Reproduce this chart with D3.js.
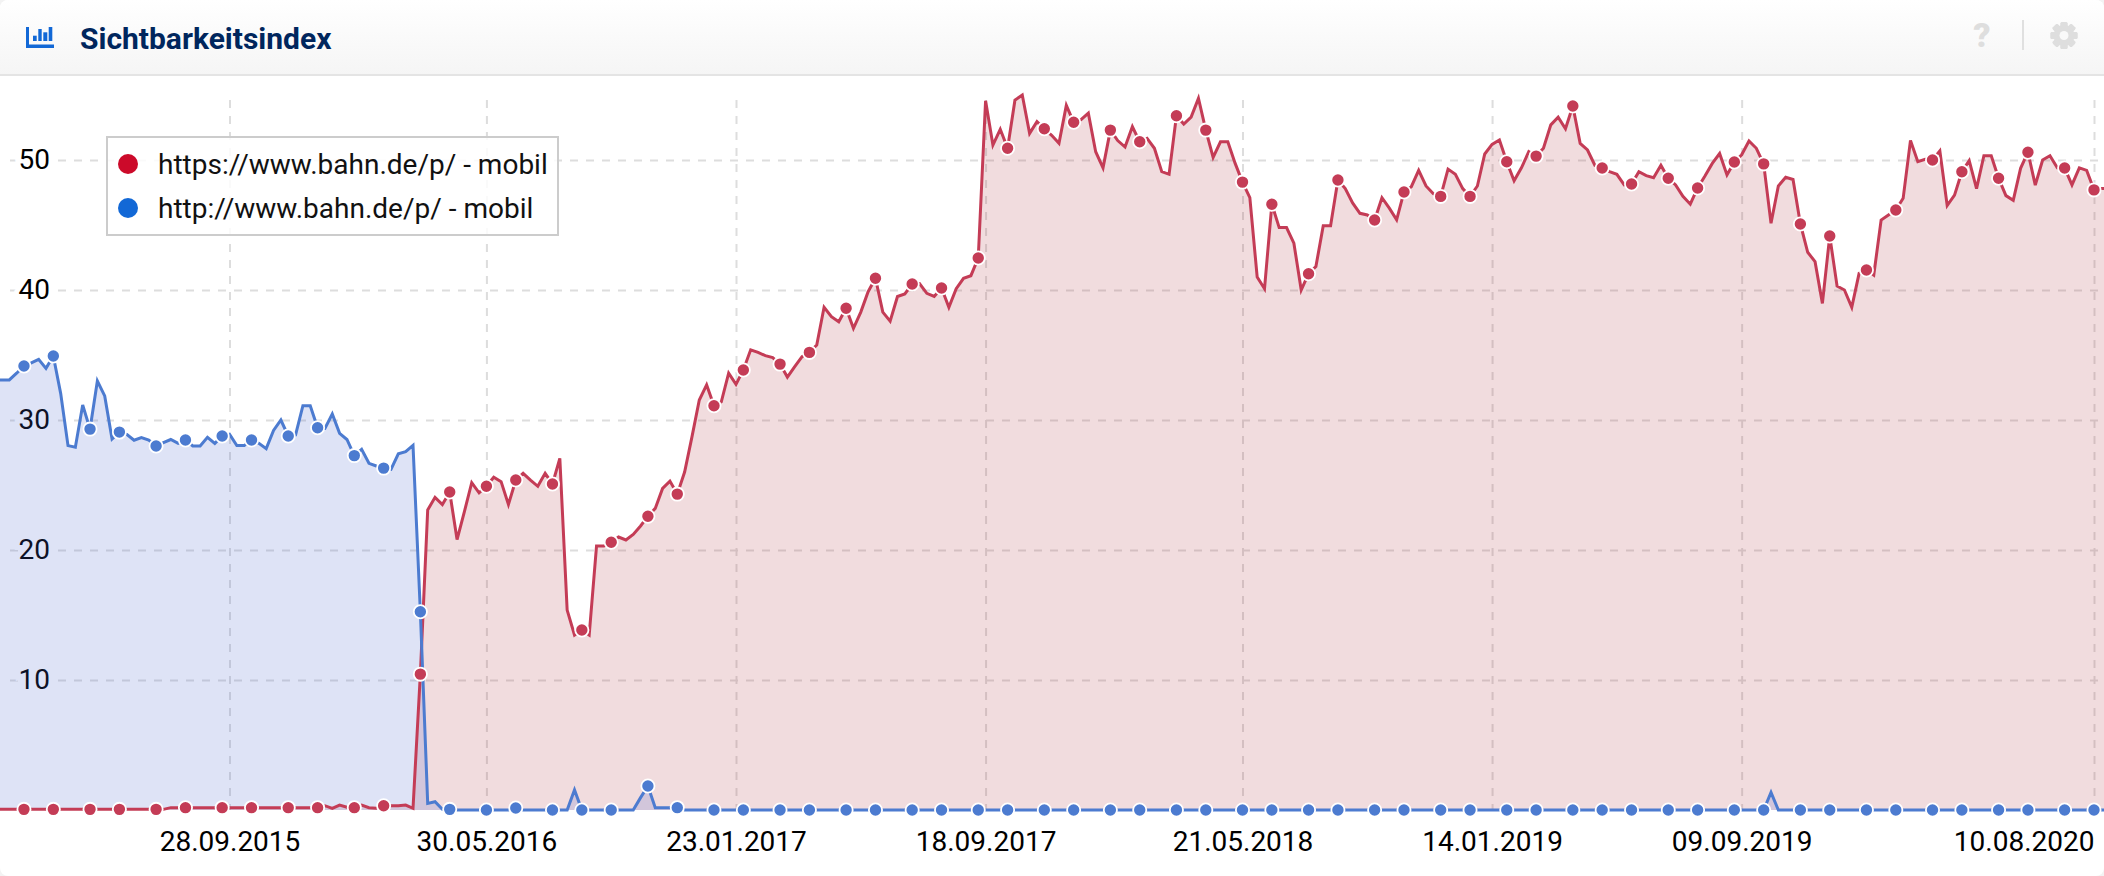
<!DOCTYPE html>
<html>
<head>
<meta charset="utf-8">
<title>Sichtbarkeitsindex</title>
<script src="https://cdn.jsdelivr.net/npm/d3@7"></script>
<style>
	html, body { margin: 0; padding: 0; background: #f3f3f3; }
	svg { display: block; }
	text { font-family: Roboto, sans-serif; }
</style>
</head>
<body>
<div id="chart"></div>
<script>
// first week of the series, one value per week from here on
var first_week = '16.02.2015';

var tick_labels = ['28.09.2015', '30.05.2016', '23.01.2017', '18.09.2017', '21.05.2018', '14.01.2019', '09.09.2019', '10.08.2020'];
var y_ticks = [10, 20, 30, 40, 50];

var https_name = 'https://www.bahn.de/p/ - mobil';
var http_name = 'http://www.bahn.de/p/ - mobil';

var https_values = [
	0.05,
	0.05, 0.05, 0.05, 0.05, 0.05, 0.05, 0.05, 0.05, 0.05, 0.05,
	0.05, 0.05, 0.05, 0.05, 0.05, 0.05, 0.05, 0.05, 0.05, 0.05,
	0.05, 0.05, 0.05, 0.18, 0.18, 0.18, 0.18, 0.18, 0.18, 0.18,
	0.18, 0.18, 0.18, 0.18, 0.18, 0.18, 0.18, 0.18, 0.18, 0.18,
	0.18, 0.18, 0.18, 0.18, 0.33, 0.13, 0.38, 0.22, 0.18, 0.38,
	0.18, 0.13, 0.33, 0.33, 0.33, 0.38, 0.13, 10.45, 23.08, 24.05,
	23.5, 24.46, 20.8, 22.95, 25.18, 24.4, 24.9, 25.6, 25.26, 23.5,
	25.38, 25.9, 25.38, 24.9, 25.9, 25.08, 27.05, 15.38, 13.46, 13.85,
	13.46, 20.3, 20.3, 20.6, 21.0, 20.77, 21.2, 21.85, 22.6, 23.2,
	24.74, 25.3, 24.3, 26.0, 28.7, 31.54, 32.7, 31.1, 31.4, 33.6,
	32.74, 33.85, 35.4, 35.2, 34.95, 34.8, 34.3, 33.3, 34.1, 34.87,
	35.2, 35.77, 38.67, 37.95, 37.56, 38.6, 37.05, 38.3, 39.87, 40.9,
	38.3, 37.6, 39.5, 39.7, 40.46, 40.5, 39.74, 39.5, 40.15, 38.67,
	40.1, 40.9, 41.1, 42.46, 54.56, 51.15, 52.36, 50.9, 54.6, 55.0,
	52.05, 52.95, 52.4, 51.9, 51.28, 54.2, 52.9, 53.1, 53.6, 50.64,
	49.4, 52.3, 51.5, 51.0, 52.56, 51.4, 51.67, 50.9, 49.1, 48.9,
	53.4, 52.77, 53.3, 54.74, 52.3, 50.2, 51.4, 51.4, 49.74, 48.3,
	47.1, 41.0, 40.1, 46.6, 44.8, 44.8, 43.6, 40.0, 41.25, 41.8,
	44.95, 44.95, 48.46, 47.8, 46.7, 45.9, 45.77, 45.38, 47.1, 46.3,
	45.4, 47.54, 47.95, 49.2, 48.0, 47.4, 47.2, 49.3, 48.9, 47.8,
	47.2, 48.0, 50.46, 51.2, 51.54, 49.87, 48.4, 49.4, 50.64, 50.3,
	50.9, 52.7, 53.3, 52.4, 54.15, 51.28, 50.77, 49.6, 49.38, 49.1,
	48.9, 48.08, 48.15, 49.1, 48.8, 48.64, 49.6, 48.6, 48.08, 47.2,
	46.6, 47.85, 48.77, 49.74, 50.5, 48.85, 49.85, 50.4, 51.46, 50.9,
	49.7, 45.13, 48.0, 48.67, 48.5, 45.08, 42.9, 42.18, 38.97, 44.15,
	40.3, 40.0, 38.67, 41.28, 41.54, 41.15, 45.38, 45.77, 46.15, 47.05,
	51.5, 49.87, 50.05, 50.0, 50.7, 46.5, 47.3, 49.1, 49.95, 47.8,
	50.33, 50.33, 48.6, 47.26, 46.9, 49.36, 50.6, 48.07, 50.0, 50.33,
	49.4, 49.38, 48.08, 49.4, 49.2, 47.7, 47.8, 47.8
];

var http_values = [
	33.08,
	33.08, 33.08, 33.6, 34.15, 34.4, 34.67, 33.97, 34.92, 32.05, 28.03,
	27.9, 31.15, 29.3, 33.0, 31.85, 28.54, 29.07, 28.9, 28.44, 28.64,
	28.46, 28.0, 28.26, 28.5, 28.2, 28.46, 28.0, 28.0, 28.67, 28.2,
	28.77, 28.9, 28.03, 28.03, 28.46, 28.2, 27.8, 29.2, 30.0, 28.77,
	28.85, 31.1, 31.1, 29.4, 29.36, 30.46, 28.97, 28.5, 27.26, 27.74,
	26.67, 26.46, 26.3, 26.2, 27.4, 27.56, 28.05, 15.25, 0.51, 0.64,
	0.05, 0.05, 0, 0, 0, 0, 0, 0, 0, 0,
	0.15, 0, 0, 0, 0, 0, 0, 0, 1.54, 0,
	0, 0, 0, 0, 0, 0, 0, 0.95, 1.85, 0.18,
	0.18, 0.18, 0.18, 0, 0, 0, 0, 0, 0, 0,
	0, 0, 0, 0, 0, 0, 0, 0, 0, 0,
	0, 0, 0, 0, 0, 0, 0, 0, 0, 0,
	0, 0, 0, 0, 0, 0, 0, 0, 0, 0,
	0, 0, 0, 0, 0, 0, 0, 0, 0, 0,
	0, 0, 0, 0, 0, 0, 0, 0, 0, 0,
	0, 0, 0, 0, 0, 0, 0, 0, 0, 0,
	0, 0, 0, 0, 0, 0, 0, 0, 0, 0,
	0, 0, 0, 0, 0, 0, 0, 0, 0, 0,
	0, 0, 0, 0, 0, 0, 0, 0, 0, 0,
	0, 0, 0, 0, 0, 0, 0, 0, 0, 0,
	0, 0, 0, 0, 0, 0, 0, 0, 0, 0,
	0, 0, 0, 0, 0, 0, 0, 0, 0, 0,
	0, 0, 0, 0, 0, 0, 0, 0, 0, 0,
	0, 0, 0, 0, 0, 0, 0, 0, 0, 0,
	0, 1.35, 0, 0, 0, 0, 0, 0, 0, 0,
	0, 0, 0, 0, 0, 0, 0, 0, 0, 0,
	0, 0, 0, 0, 0, 0, 0, 0, 0, 0,
	0, 0, 0, 0, 0, 0, 0, 0, 0, 0,
	0, 0, 0, 0, 0, 0, 0, 0
];

// weeks (position in the value arrays) that carry a dot
var marker_weeks = [
	4, 8, 13, 17, 22, 26, 31, 35, 40, 44, 49, 53, 58, 62, 67, 71, 76, 80, 84, 89, 93,
	98, 102, 107, 111, 116, 120, 125, 129, 134, 138, 143, 147, 152, 156, 161, 165, 170,
	174, 179, 183, 188, 192, 197, 201, 206, 210, 215, 219, 223, 228, 232, 237, 241, 246,
	250, 255, 259, 264, 268, 273, 277, 282, 286
];

var chart_width = 2104;
var chart_height = 876;

var parse_date = d3.utcParse('%d.%m.%Y');
var format_date = d3.utcFormat('%d.%m.%Y');

var weeks = https_values.map(function(d, i){
	return d3.utcDay.offset(parse_date(first_week), i * 7);
});
var tick_dates = tick_labels.map(parse_date);

var svg = d3.select('#chart')
			.append('svg')
			.attr('width', chart_width)
			.attr('height', chart_height);

var defs = svg.append('defs');
var head_grad = defs.append('linearGradient')
			.attr('id', 'head_grad')
			.attr('x1', 0).attr('y1', 0).attr('x2', 0).attr('y2', 1);
head_grad.append('stop').attr('offset', '0%').attr('stop-color', '#ffffff');
head_grad.append('stop').attr('offset', '100%').attr('stop-color', '#f5f5f5');
defs.append('clipPath').attr('id', 'plot_clip')
	.append('rect').attr('x', 0).attr('y', 76).attr('width', chart_width).attr('height', 770);

// panel with slightly rounded corners
svg.append('rect')
	.attr('width', chart_width)
	.attr('height', chart_height)
	.attr('rx', 8)
	.attr('fill', '#fff');

// Create scales
var x_scale = d3.scaleUtc()
				.domain([tick_dates[0], tick_dates[tick_dates.length - 1]])
				.range([229.5, 2094]);
var y_scale = d3.scaleLinear()
				.domain([0, 50])
				.range([810, 160]);

var grid_color = '#dddddd';

// Create axes, their tick lines are the dashed grid
var x_axis = d3.axisBottom(x_scale)
				.tickValues(tick_dates)
				.tickFormat(format_date)
				.tickSize(-714)
				.tickPadding(21);
var x_g = svg.append('g')
	.attr('class', 'x-axis')
	.attr('transform', 'translate(0,810)')
	.call(x_axis);

var y_axis = d3.axisLeft(y_scale)
				.tickValues(y_ticks)
				.tickSize(-2094);
var y_g = svg.append('g')
	.attr('class', 'y-axis')
	.attr('transform', 'translate(10,0)')
	.call(y_axis);

[x_g, y_g].forEach(function(g){
	g.select('.domain').remove();
	g.selectAll('line')
		.attr('stroke', grid_color)
		.attr('stroke-width', 2)
		.attr('stroke-dasharray', '8 8');
	g.selectAll('text')
		.attr('font-family', 'Roboto, sans-serif')
		.attr('font-size', 28)
		.attr('fill', '#000');
});
x_g.selectAll('line').attr('stroke-dashoffset', 2);
// last date label stays inside the picture
x_g.selectAll('.tick:last-of-type text').attr('text-anchor', 'end');
y_g.selectAll('text')
	.attr('x', 40)
	.attr('stroke', '#fff')
	.attr('stroke-width', 10)
	.attr('paint-order', 'stroke');

var area = function(values){
	return d3.area()
		.x(function(d, i){ return x_scale(weeks[i]); })
		.y0(y_scale(0))
		.y1(function(d){ return y_scale(d); })(values);
};
var line = function(values){
	return d3.line()
		.x(function(d, i){ return x_scale(weeks[i]); })
		.y(function(d){ return y_scale(d); })(values);
};

var plot = svg.append('g').attr('clip-path', 'url(#plot_clip)');

var red_line = '#c43c56';
var blue_line = '#4c7bd0';

plot.append('path').attr('d', area(https_values)).attr('fill', '#aa323c').attr('fill-opacity', 0.17);
plot.append('path').attr('d', area(http_values)).attr('fill', '#4664cd').attr('fill-opacity', 0.18);
plot.append('path').attr('d', line(https_values)).attr('fill', 'none').attr('stroke', red_line).attr('stroke-width', 3);
plot.append('path').attr('d', line(http_values)).attr('fill', 'none').attr('stroke', blue_line).attr('stroke-width', 3);

// Create markers
[[https_values, red_line], [http_values, blue_line]].forEach(function(s){
	plot.append('g').selectAll('circle')
		.data(marker_weeks)
		.enter()
		.append('circle')
		.attr('cx', function(d){ return x_scale(weeks[d]); })
		.attr('cy', function(d){ return y_scale(s[0][d]); })
		.attr('r', 6.6)
		.attr('fill', s[1])
		.attr('stroke', '#fff')
		.attr('stroke-width', 1.8);
});

// Legend
var legend = svg.append('g');
legend.append('rect')
	.attr('x', 107)
	.attr('y', 137)
	.attr('width', 451)
	.attr('height', 98)
	.attr('fill', '#fff')
	.attr('fill-opacity', 0.85)
	.attr('stroke', '#cccccc')
	.attr('stroke-width', 2);
[[https_name, '#cc0a2a', 164], [http_name, '#1268d6', 208]].forEach(function(s){
	legend.append('circle').attr('cx', 128).attr('cy', s[2]).attr('r', 10).attr('fill', s[1]);
	legend.append('text')
		.text(s[0])
		.attr('x', 158)
		.attr('y', s[2] + 10)
		.attr('font-size', 28)
		.attr('fill', '#111');
});

// Header bar
var header = svg.append('g');
header.append('path')
	.attr('d', 'M0,75V8A8,8 0 0 1 8,0H2096A8,8 0 0 1 2104,8V75Z')
	.attr('fill', 'url(#head_grad)');
header.append('rect').attr('x', 0).attr('y', 74).attr('width', chart_width).attr('height', 2).attr('fill', '#e4e4e4');
header.append('text')
	.text('Sichtbarkeitsindex')
	.attr('x', 80)
	.attr('y', 49)
	.attr('font-size', 30)
	.attr('font-weight', 700)
	.attr('fill', '#00265d');

// chart icon
var icon = header.append('g').attr('fill', '#1268d6');
icon.append('path').attr('d', 'M26,27h3v17.5h25v3.5h-28z');
[[33, 35.7, 3.7], [38.3, 29, 3.4], [43.3, 32.3, 4], [48.7, 27, 3.6]].forEach(function(b){
	icon.append('rect').attr('x', b[0]).attr('y', b[1]).attr('width', b[2]).attr('height', 41 - b[1]);
});

// help, divider, settings
header.append('text')
	.text('?')
	.attr('x', 1982)
	.attr('y', 47)
	.attr('text-anchor', 'middle')
	.attr('font-size', 34)
	.attr('font-weight', 900)
	.attr('fill', '#dedede');
header.append('rect').attr('x', 2022).attr('y', 20).attr('width', 2).attr('height', 30).attr('fill', '#e0e0e0');
var gear = header.append('g').attr('transform', 'translate(2064,35.5)').attr('fill', '#dedede');
d3.range(8).forEach(function(i){
	gear.append('rect')
		.attr('x', -3.5).attr('y', -13.5).attr('width', 7).attr('height', 27).attr('rx', 1.5)
		.attr('transform', 'rotate(' + (i * 45) + ')');
});
gear.append('circle').attr('r', 10.5);
gear.append('circle').attr('r', 4.5).attr('fill', '#f9f9f9');
</script>
</body>
</html>
